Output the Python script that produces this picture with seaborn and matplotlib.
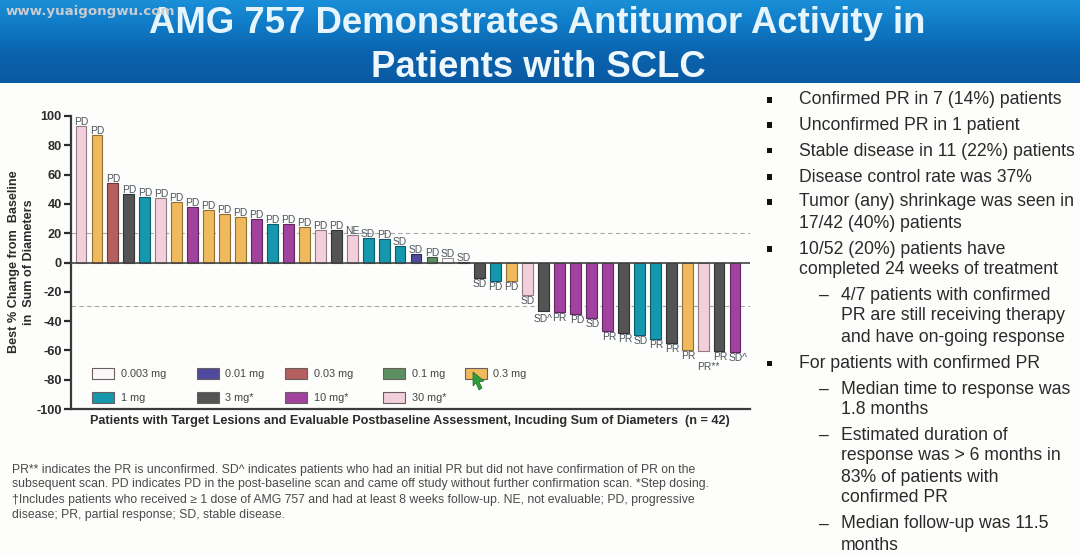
import numpy as np
import pandas as pd
import seaborn as sns

import matplotlib

matplotlib.use("Agg")
import matplotlib.pyplot as plt
from matplotlib.colors import LinearSegmentedColormap, to_rgb
from matplotlib.patches import Polygon, Rectangle

sns.set_style("white")
plt.rcParams["font.family"] = ["Liberation Sans", "DejaVu Sans"]

# best % change per patient
values = [93, 87, 54, 47, 45, 44, 41, 38, 36, 33, 31, 30, 26.5, 26, 24.5, 22, 22,
          18.5, 17, 16, 11, 6, 4, 3, 0.5, -10.5, -12.3, -12.3, -22.5, -33, -33.6,
          -35, -38, -46.6, -48.2, -49.5, -52, -55, -59.6, -60.3, -60.3, -61]
doses = ["30 mg*", "0.3 mg", "0.03 mg", "3 mg*", "1 mg", "30 mg*", "0.3 mg", "10 mg*",
         "0.3 mg", "0.3 mg", "0.3 mg", "10 mg*", "1 mg", "10 mg*", "0.3 mg", "30 mg*",
         "3 mg*", "30 mg*", "1 mg", "1 mg", "1 mg", "0.01 mg", "0.1 mg", "0.003 mg",
         "3 mg*", "3 mg*", "1 mg", "0.3 mg", "30 mg*", "3 mg*", "10 mg*", "10 mg*",
         "10 mg*", "10 mg*", "3 mg*", "1 mg", "1 mg", "3 mg*", "0.3 mg", "30 mg*",
         "3 mg*", "10 mg*"]
responses = ["PD"] * 17 + ["NE", "SD", "PD", "SD", "SD", "PD", "SD", "SD", "SD", "PD",
             "PD", "SD", "SD^", "PR", "PD", "SD", "PR", "PR", "SD", "PR", "PR", "PR",
             "PR**", "PR", "SD^"]

dose_names = ["0.003 mg", "0.01 mg", "0.03 mg", "0.1 mg", "0.3 mg",
              "1 mg", "3 mg*", "10 mg*", "30 mg*"]
dose_colors = ["#fbf8fa", "#4f4a9c", "#b5605f", "#5c8f62", "#f0b95c",
               "#1598ae", "#545454", "#a0429e", "#f3cfdc"]
y_ticks = [100, 80, 60, 40, 20, 0, -20, -40, -60, -80, -100]

title_lines = ["AMG 757 Demonstrates Antitumor Activity in", "Patients with SCLC"]
footnotes = [
    "PR** indicates the PR is unconfirmed. SD^ indicates patients who had an initial PR but did not have confirmation of PR on the",
    "subsequent scan. PD indicates PD in the post-baseline scan and came off study without further confirmation scan. *Step dosing.",
    "\u2020Includes patients who received \u2265 1 dose of AMG 757 and had at least 8 weeks follow-up. NE, not evaluable; PD, progressive",
    "disease; PR, partial response; SD, stable disease.",
]
# level 0 = square bullet, 1 = dash, 2 = continuation of a dash item,
# -1 = continuation of a bullet item
bullets = [
    (0, "Confirmed PR in 7 (14%) patients", 100),
    (0, "Unconfirmed PR in 1 patient", 125),
    (0, "Stable disease in 11 (22%) patients", 151),
    (0, "Disease control rate was 37%", 177),
    (0, "Tumor (any) shrinkage was seen in", 202),
    (-1, "17/42 (40%) patients", 223),
    (0, "10/52 (20%) patients have", 249),
    (-1, "completed 24 weeks of treatment", 270),
    (1, "4/7 patients with confirmed", 295),
    (2, "PR are still receiving therapy", 316),
    (2, "and have on-going response", 338),
    (0, "For patients with confirmed PR", 363),
    (1, "Median time to response was", 389),
    (2, "1.8 months", 409),
    (1, "Estimated duration of", 435),
    (2, "response was > 6 months in", 456),
    (2, "83% of patients with", 477),
    (2, "confirmed PR", 498),
    (1, "Median follow-up was 11.5", 524),
    (2, "months", 545),
]

W, H = 1080, 557
fig = plt.figure(figsize=(W / 100, H / 100), dpi=100, facecolor="#fdfdfb")


def fx(x):
    return x / W


def fy(y):
    return 1 - y / H


# slide header
hdr = fig.add_axes([0, fy(83), 1, 83 / H])
grad = np.linspace(0, 1, 83).reshape(-1, 1)
hdr_cmap = LinearSegmentedColormap.from_list(
    "hdr", ["#1a8fd8", "#0f78c4", "#0a62ac", "#0a5aa3"]
)
hdr.imshow(grad, aspect="auto", cmap=hdr_cmap)
hdr.axis("off")

fig.text(fx(537), fy(33), title_lines[0], color="#e6f5fb", fontsize=26.3, fontweight="bold",
         ha="center", va="baseline")
fig.text(fx(538), fy(77), title_lines[1], color="#eef8fc", fontsize=26.3, fontweight="bold",
         ha="center", va="baseline")
fig.text(fx(6), fy(11), "www.yuaigongwu.com", color="#c9ccd0", fontsize=9.6, fontweight="bold",
         ha="left", va="center", family="DejaVu Sans")

# waterfall
ax = fig.add_axes([fx(71), fy(409), (750 - 71) / W, (409 - 116) / H])
ax.patch.set_alpha(0)
df = pd.DataFrame({"patient": range(len(values)), "change": values, "dose": doses})
sns.barplot(
    data=df,
    x="patient",
    y="change",
    hue="dose",
    hue_order=dose_names,
    palette=dict(zip(dose_names, dose_colors)),
    dodge=False,
    saturation=1,
    width=0.68,
    linewidth=0.8,
    legend=False,
    ax=ax,
    zorder=2,
)
# outline each bar with a darker shade of its own fill
for bar in ax.patches:
    r, g, b = to_rgb(bar.get_facecolor())
    bar.set_edgecolor((r * 0.6, g * 0.6, b * 0.6))

ax.set_xlim(-0.627, 41.94)
ax.set_ylim(-100, 100)
ax.set_xticks([])
ax.set_xlabel("")
ax.set_ylabel("")
ax.set_yticks(y_ticks)
ax.set_yticklabels([str(t) for t in y_ticks], fontsize=9.2, fontweight="bold", color="#2b2b2b")
ax.tick_params(axis="y", length=5, width=1.6, color="#2b2b2b", left=True, pad=1.5)
sns.despine(ax=ax)
for side in ["left", "bottom"]:
    ax.spines[side].set_linewidth(1.6)
    ax.spines[side].set_color("#3a3a3a")

ax.axhline(0, color="#444444", linewidth=1.2, zorder=3)
for level in [20, -30]:
    ax.axhline(level, color="#a8a8a8", linestyle=(0, (4, 3)), linewidth=0.8, zorder=1)

# response labels, a few of them sit off the bar in the original (pixels)
label_nudge = {29: (-1, -2), 39: (5, -10), 40: (1, 0), 41: (3, 0)}
for i, (val, resp) in enumerate(zip(values, responses)):
    dx, dy = label_nudge.get(i, (1.5 if i > 30 else 0, 0))
    off = 4 if val > 0 else -6
    ax.annotate(resp, (i, val), xytext=(dx * 0.72, (off + dy) * 0.72),
                textcoords="offset points", ha="center", va="center",
                fontsize=7.4, color="#4d5560", zorder=4)

# legend is placed by hand, its columns are not evenly spaced
swatch_x = [92, 197, 285, 383, 465]
text_x = [121, 225, 314, 412, 493]
for n, (name, color) in enumerate(zip(dose_names, dose_colors)):
    col = n % 5
    top = 368 if n < 5 else 392
    fig.patches.append(Rectangle((fx(swatch_x[col]), fy(top + 11)), 22 / W, 11 / H,
                                 transform=fig.transFigure, facecolor=color,
                                 edgecolor="#6a5f5f", linewidth=0.8))
    fig.text(fx(text_x[col]), fy(top + 6), name, fontsize=7.8, color="#444444",
             ha="left", va="center")

# green mouse cursor from the screen recording
cursor = [(473, 372), (473, 386), (476, 383), (479, 390), (482, 388), (479, 382), (484, 381)]
fig.patches.append(Polygon([(fx(x), fy(y)) for x, y in cursor], closed=True,
                           transform=fig.transFigure, facecolor="#2f9e3a",
                           edgecolor="#1c6d26", linewidth=0.5, zorder=5))

fig.text(fx(14), fy(262), "Best % Change from  Baseline", rotation=90, fontsize=9.1,
         fontweight="bold", color="#2b2b2b", ha="center", va="center")
fig.text(fx(29), fy(262), "in  Sum of Diameters", rotation=90, fontsize=9.1,
         fontweight="bold", color="#2b2b2b", ha="center", va="center")
fig.text(fx(410), fy(421), "Patients with Target Lesions and Evaluable Postbaseline Assessment, "
         "Incuding Sum of Diameters  (n = 42)", fontsize=9.1, fontweight="bold",
         color="#2b2b2b", ha="center", va="center")

for y, line in zip([470, 484, 500, 515], footnotes):
    fig.text(fx(12), fy(y), line, fontsize=8.8, color="#4a4a4a", ha="left", va="center")

# right column
for level, text, y in bullets:
    x = {0: 799, -1: 799, 1: 841, 2: 841}[level]
    fig.text(fx(x), fy(y), text, fontsize=12.7, color="#2a2a2a", ha="left", va="center")
    if level == 0:
        fig.patches.append(Rectangle((fx(767), fy(y + 2.5)), 5 / W, 5 / H,
                                     transform=fig.transFigure, facecolor="#111111",
                                     edgecolor="none"))
    elif level == 1:
        fig.text(fx(819), fy(y), "\u2013", fontsize=12.7, color="#2a2a2a", ha="left", va="center")

fig.savefig("out.png", dpi=100, facecolor=fig.get_facecolor())
